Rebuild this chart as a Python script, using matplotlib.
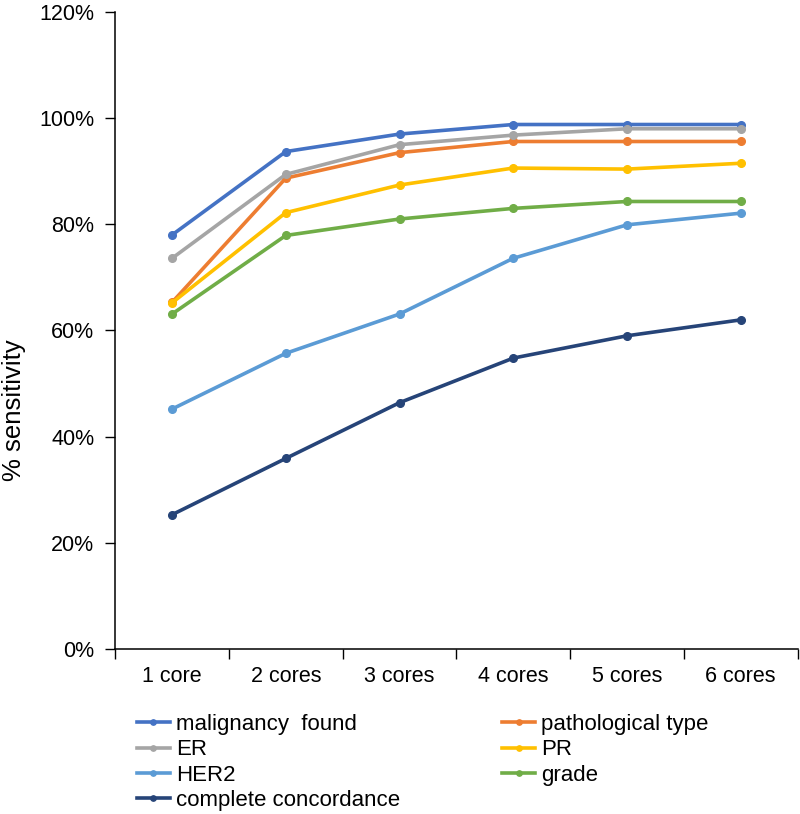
import matplotlib
matplotlib.use("Agg")
import matplotlib.pyplot as plt
from matplotlib.ticker import FixedLocator, PercentFormatter

plt.rcParams['font.family'] = ['Liberation Sans', 'DejaVu Sans']

cores = ["1 core", "2 cores", "3 cores", "4 cores", "5 cores", "6 cores"]

malignancy = [78.0, 93.7, 97.0, 98.8, 98.8, 98.8]
pathological = [65.3, 88.7, 93.5, 95.6, 95.6, 95.6]
er = [73.6, 89.4, 95.0, 96.8, 98.0, 98.0]
pr = [65.2, 82.2, 87.4, 90.6, 90.4, 91.5]
her2 = [45.2, 55.7, 63.1, 73.6, 79.9, 82.1]
grade = [63.1, 77.9, 81.0, 83.0, 84.3, 84.3]
complete = [25.3, 35.9, 46.4, 54.8, 59.0, 62.0]

series = [
    ("malignancy  found", malignancy, "#4472C4"),
    ("pathological type", pathological, "#ED7D31"),
    ("ER", er, "#A5A5A5"),
    ("PR", pr, "#FFC000"),
    ("HER2", her2, "#5B9BD5"),
    ("grade", grade, "#70AD47"),
    ("complete concordance", complete, "#264478"),
]

fig = plt.figure(figsize=(8, 8.14), dpi=100)
ax = fig.add_axes([0.144, 0.2027, 0.853, 0.7826])

x = list(range(len(cores)))
lines = {}
for name, vals, col in series:
    ln, = ax.plot(x, vals, color=col, lw=2.6, marker='o', ms=5.5, label=name)
    lines[name] = ln

ax.set_xlim(-0.5, 5.5)
ax.set_ylim(0, 120)
ax.set_yticks(range(0, 121, 20))
ax.yaxis.set_major_formatter(PercentFormatter(decimals=0))
ax.set_xticks(x)
ax.set_xticklabels(cores)
ax.xaxis.set_minor_locator(FixedLocator([i + 0.5 for i in range(-1, 6)]))
ax.tick_params(axis='x', which='major', length=0, pad=12, labelsize=15.5)
ax.tick_params(axis='x', which='minor', length=7, width=1, direction='out')
ax.tick_params(axis='y', length=7, width=1, labelsize=15.5, pad=8)
for s in ['top', 'right']:
    ax.spines[s].set_visible(False)
for s in ['left', 'bottom']:
    ax.spines[s].set_linewidth(1.1)
ax.set_ylabel("% sensitivity", fontsize=18.5)
ax.yaxis.set_label_coords(-0.13, 0.375)

order = ["malignancy  found", "ER", "HER2", "complete concordance",
         "pathological type", "PR", "grade"]
fig.legend([lines[n] for n in order], order, loc='upper left',
           bbox_to_anchor=(0.171, 0.123), ncol=2,
           frameon=False, fontsize=16, handlelength=1.5, handletextpad=0.25,
           labelspacing=0.2, columnspacing=4.6, borderaxespad=0, borderpad=0,
           markerscale=0.7)

fig.savefig("out.png", dpi=100)
